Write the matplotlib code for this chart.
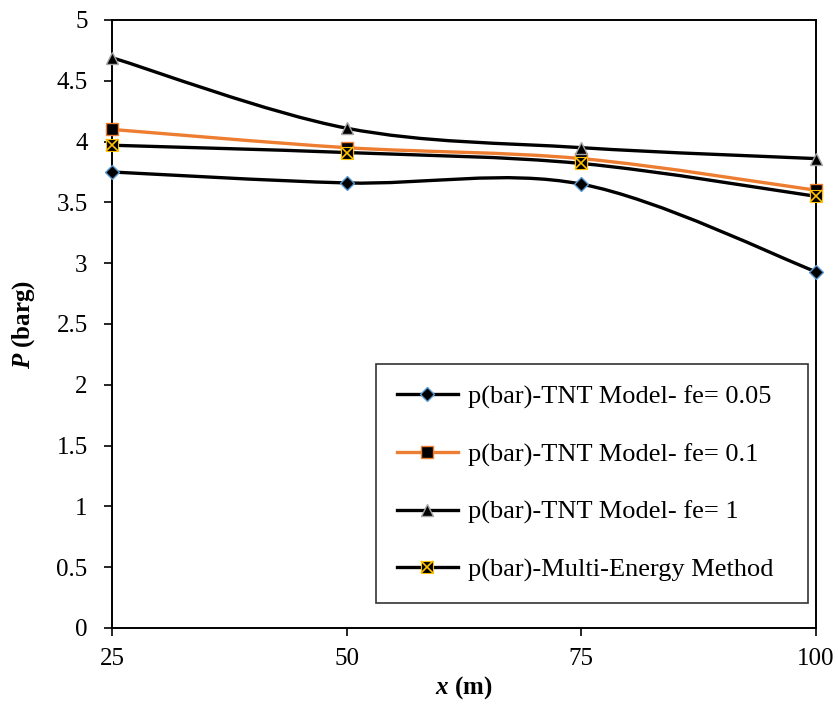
import numpy as np
import matplotlib
matplotlib.use('Agg')
import matplotlib.pyplot as plt
from matplotlib.path import Path
from matplotlib.patches import PathPatch
from matplotlib.lines import Line2D
from matplotlib.legend_handler import HandlerTuple

plt.rcParams['font.family'] = ['Liberation Serif', 'DejaVu Serif']
plt.rcParams['mathtext.fontset'] = 'custom'
plt.rcParams['mathtext.bfit'] = 'Liberation Serif:italic:bold'
plt.rcParams['mathtext.it'] = 'Liberation Serif:italic'

# -----------------------------------------------------------------------
# Data
# -----------------------------------------------------------------------
x_m = [25, 50, 75, 100]
p_fe005 = [3.75, 3.66, 3.65, 2.93]
p_fe01 = [4.10, 3.95, 3.86, 3.60]
p_fe1 = [4.69, 4.11, 3.95, 3.86]
p_multi = [3.97, 3.91, 3.82, 3.55]

labels = ['p(bar)-TNT Model- fe= 0.05',
          'p(bar)-TNT Model- fe= 0.1',
          'p(bar)-TNT Model- fe= 1',
          'p(bar)-Multi-Energy Method']

ORANGE = '#ED7D31'
BLUE = '#5B9BD5'
GOLD = '#FFC000'
GREY = '#A5A5A5'


def smooth_path(x, y):
    """Excel-like smoothed line: cubic Bezier through the data points."""
    pts = np.column_stack([x, y]).astype(float)
    n = len(pts)
    verts = [pts[0]]
    codes = [Path.MOVETO]
    for i in range(n - 1):
        p_prev = pts[max(i - 1, 0)]
        p_next2 = pts[min(i + 2, n - 1)]
        c1 = pts[i] + (pts[i + 1] - p_prev) / 6.0
        c2 = pts[i + 1] - (p_next2 - pts[i]) / 6.0
        verts += [c1, c2, pts[i + 1]]
        codes += [Path.CURVE4] * 3
    return Path(verts, codes)


fig = plt.figure(figsize=(8.38, 7.04), dpi=100)
ax = fig.add_axes([0.1337, 0.108, 0.84, 0.8636])

lw = 2.4
series = [
    (p_fe005, 'black', dict(marker='D', ms=7, mfc='black', mec=BLUE, mew=1.0)),
    (p_fe01, ORANGE, dict(marker='s', ms=9, mfc='black', mec=ORANGE, mew=1.0)),
    (p_fe1, 'black', dict(marker='^', ms=9, mfc='black', mec=GREY, mew=1.0)),
    (p_multi, 'black', dict(marker='s', ms=9, mfc='black', mec=GOLD, mew=0.8)),
]
line_z = [2, 4, 2, 3]

handles = []
for (yv, col, mk), z in zip(series, line_z):
    ax.add_patch(PathPatch(smooth_path(x_m, yv), fill=False, edgecolor=col,
                           lw=lw, zorder=z, capstyle='round'))
    ax.plot(x_m, yv, ls='none', zorder=5, clip_on=False, **mk)
    handles.append(Line2D([], [], color=col, lw=lw, **mk))

# yellow cross over the Multi-Energy squares
ax.plot(x_m, p_multi, ls='none', marker='x', ms=8, mec=GOLD, mew=1.2,
        zorder=6, clip_on=False)
x_handle = Line2D([], [], ls='none', marker='x', ms=8, mec=GOLD, mew=1.2)
handles[3] = (handles[3], x_handle)

ax.set_xlim(25, 100)
ax.set_ylim(0, 5)
ax.set_xticks([25, 50, 75, 100])
ax.set_yticks(np.arange(0, 5.01, 0.5))
ax.set_yticklabels(['0', '0.5', '1', '1.5', '2', '2.5', '3', '3.5', '4', '4.5', '5'])
ax.tick_params(direction='out', length=5.5, width=1.2, labelsize=18)
ax.tick_params(axis='y', pad=12)
ax.tick_params(axis='x', pad=9)
for sp in ax.spines.values():
    sp.set_linewidth(1.4)

ax.set_xlabel(r'$\bfit{x}$ (m)', fontsize=18, fontweight='bold', labelpad=3)
ax.set_ylabel(r'$\bfit{P}$ (barg)', fontsize=18, fontweight='bold', labelpad=14)

leg = ax.legend(handles, labels, loc='lower left',
                bbox_to_anchor=(0.375, 0.041, 0.6136, 0.3865), mode='expand',
                fontsize=19, frameon=True, fancybox=False, edgecolor='black',
                labelspacing=1.28, handlelength=2.3, handletextpad=0.38,
                borderpad=0.8, borderaxespad=0,
                handler_map={tuple: HandlerTuple(ndivide=1, pad=0)})
leg.get_frame().set_linewidth(1.2)

fig.savefig('out.png', dpi=100)
